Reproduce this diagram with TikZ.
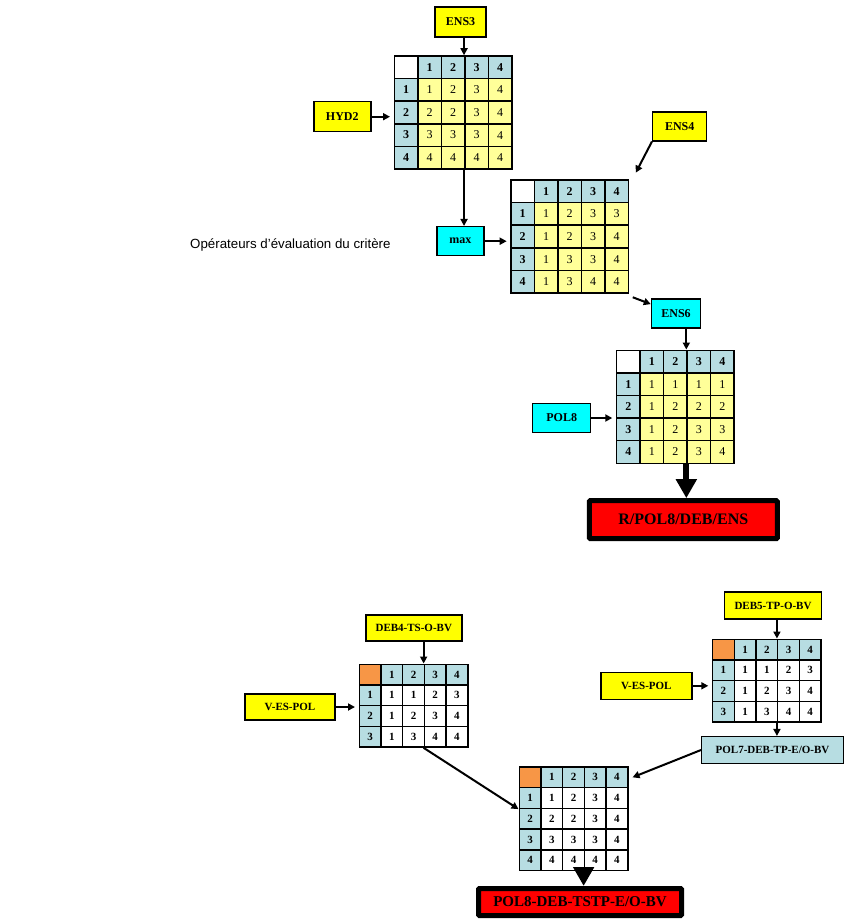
\documentclass[tikz,border=0pt]{standalone}
\usepackage{fontspec}
\setmainfont{Liberation Serif}
\newfontfamily\arialfont{Liberation Sans}
\usetikzlibrary{matrix,arrows.meta}
\definecolor{hdr}{RGB}{183,221,226}
\definecolor{cellY}{RGB}{255,255,153}
\definecolor{corner}{RGB}{247,150,70}
\definecolor{boxY}{RGB}{255,255,0}
\definecolor{boxC}{RGB}{0,255,255}
\definecolor{boxR}{RGB}{255,0,0}

\begin{document}
\begin{tikzpicture}[x=1pt,y=-1pt,
  cell/.style={draw,line width=1.5pt,inner sep=0pt,anchor=center,minimum width=23.5pt,minimum height=22.6pt,font=\fontsize{12}{12}\selectfont},
  cellb/.style={cell,minimum width=21.7pt,minimum height=20.7pt,font=\bfseries\fontsize{11}{11}\selectfont},
  tabY/.style={matrix of nodes,nodes in empty cells,anchor=north west,column sep=-1.5pt,row sep=-1.5pt,
    nodes={cell,fill=cellY},
    row 1/.style={nodes={fill=hdr,font=\bfseries\fontsize{12}{12}\selectfont}},
    column 1/.style={nodes={fill=hdr,font=\bfseries\fontsize{12}{12}\selectfont}},
    row 1 column 1/.style={nodes={fill=white}}},
  tabW/.style={matrix of nodes,nodes in empty cells,anchor=north west,column sep=-1.5pt,row sep=-1.5pt,
    nodes={cellb,fill=white},
    row 1/.style={nodes={fill=hdr}},
    column 1/.style={nodes={fill=hdr}},
    row 1 column 1/.style={nodes={fill=corner}}},
  lbl/.style={draw,line width=1.5pt,inner sep=0pt,font=\bfseries\fontsize{12}{12}\selectfont},
  lbls/.style={lbl,font=\bfseries\fontsize{11}{11}\selectfont},
  res/.style={draw,line width=5pt,fill=boxR,inner sep=0pt,rounded corners=1pt},
  arr/.style={-{Triangle[length=7pt,width=7pt]},line width=2pt},
  bigarr/.style={-{Triangle[length=19pt,width=20pt]},line width=6pt}]
\path[use as bounding box,fill=white] (0,0) rectangle (844,924);

\node[lbl,fill=boxY,minimum width=51pt,minimum height=30pt] (ens3) at (460.5,22) {ENS3};
\node[lbl,fill=boxY,minimum width=57pt,minimum height=30pt] (hyd2) at (342.3,116.7) {HYD2};
\matrix (tA) [tabY] at (390,51.7) {
   & 1 & 2 & 3 & 4 \\
 1 & 1 & 2 & 3 & 4 \\
 2 & 2 & 2 & 3 & 4 \\
 3 & 3 & 3 & 3 & 4 \\
 4 & 4 & 4 & 4 & 4 \\
};
\node[lbl,fill=boxC,minimum width=47pt,minimum height=29pt] (max) at (460.3,241.2) {max};
\node[lbl,fill=boxY,minimum width=54pt,minimum height=29pt] (ens4) at (679.7,126.3) {ENS4};
\matrix (tB) [tabY] at (506.7,175.7) {
   & 1 & 2 & 3 & 4 \\
 1 & 1 & 2 & 3 & 3 \\
 2 & 1 & 2 & 3 & 4 \\
 3 & 1 & 3 & 3 & 4 \\
 4 & 1 & 3 & 4 & 4 \\
};
\node[lbl,fill=boxC,minimum width=49pt,minimum height=29pt] (ens6) at (676,313.3) {ENS6};
\node[lbl,fill=boxC,minimum width=58pt,minimum height=29pt] (pol8) at (561.7,418) {POL8};
\matrix (tC) [tabY] at (612.3,346) {
   & 1 & 2 & 3 & 4 \\
 1 & 1 & 1 & 1 & 1 \\
 2 & 1 & 2 & 2 & 2 \\
 3 & 1 & 2 & 3 & 3 \\
 4 & 1 & 2 & 3 & 4 \\
};
\node[res,minimum width=188pt,minimum height=38pt,font=\bfseries\fontsize{16}{16}\selectfont] (resA) at (683.3,519.7) {R/POL8/DEB/ENS};
\node[anchor=base west,inner sep=0pt,font=\arialfont\fontsize{13.3}{13.3}\selectfont] (ops) at (190,248) {Opérateurs d’évaluation du critère};

\draw[arr] (tA-1-4.west |- ens3.south) -- (tA-1-4.north west);
\draw[arr] (hyd2.east) -- (hyd2.east -| tA.west);
\draw[arr] (tA-5-4.south west) -- (tA-5-4.south west |- max.north);
\draw[arr] (max.east) -- (max.east -| tB.west);
\draw[arr] (ens4.south west) -- ([shift={(3pt,3pt)}]tB.north east);
\draw[arr] (tB.south east) -- (ens6.160);
\draw[arr] (tC-1-4.west |- ens6.south) -- (tC-1-4.north west);
\draw[arr] (pol8.east) -- (pol8.east -| tC.west);
\draw[bigarr] (tC-5-4.south west) -- (tC-5-4.south west |- resA.north);

\node[lbls,fill=boxY,minimum width=96pt,minimum height=26pt] (deb4) at (413.8,628) {DEB4-TS-O-BV};
\node[lbls,fill=boxY,minimum width=90pt,minimum height=26pt] (vesA) at (290,707) {V-ES-POL};
\matrix (tD) [tabW] at (355,660) {
   & 1 & 2 & 3 & 4 \\
 1 & 1 & 1 & 2 & 3 \\
 2 & 1 & 2 & 3 & 4 \\
 3 & 1 & 3 & 4 & 4 \\
};
\node[lbls,fill=boxY,minimum width=97pt,minimum height=27pt] (deb5) at (773,605.7) {DEB5-TP-O-BV};
\node[lbls,fill=boxY,minimum width=91pt,minimum height=27pt] (vesB) at (646.3,685.8) {V-ES-POL};
\matrix (tE) [tabW] at (708.3,635) {
   & 1 & 2 & 3 & 4 \\
 1 & 1 & 1 & 2 & 3 \\
 2 & 1 & 2 & 3 & 4 \\
 3 & 1 & 3 & 4 & 4 \\
};
\node[lbls,fill=hdr,minimum width=141.6pt,minimum height=26.6pt] (pol7) at (772.5,750) {POL7-DEB-TP-E/O-BV};
\matrix (tF) [tabW] at (515,762.7) {
   & 1 & 2 & 3 & 4 \\
 1 & 1 & 2 & 3 & 4 \\
 2 & 2 & 2 & 3 & 4 \\
 3 & 3 & 3 & 3 & 4 \\
 4 & 4 & 4 & 4 & 4 \\
};
\node[res,minimum width=203pt,minimum height=27pt,font=\bfseries\fontsize{15}{15}\selectfont] (resB) at (580,902) {POL8-DEB-TSTP-E/O-BV};

\draw[arr] (tD-1-4.west |- deb4.south) -- (tD-1-4.north west);
\draw[arr] (vesA.east) -- (vesA.east -| tD.west);
\draw[arr] (tD-4-4.south west) -- (tF-2-1.south west);
\draw[arr] (tE-1-4.west |- deb5.south) -- (tE-1-4.north west);
\draw[arr] (vesB.east) -- (vesB.east -| tE.west);
\draw[arr] (tE-4-4.south west) -- (tE-4-4.south west |- pol7.north);
\draw[arr] (pol7.west) -- ([xshift=4pt]tF-1-5.east);
\draw[bigarr] (tF-5-4.south west) -- (tF-5-4.south west |- resB.north);
\end{tikzpicture}
\end{document}
